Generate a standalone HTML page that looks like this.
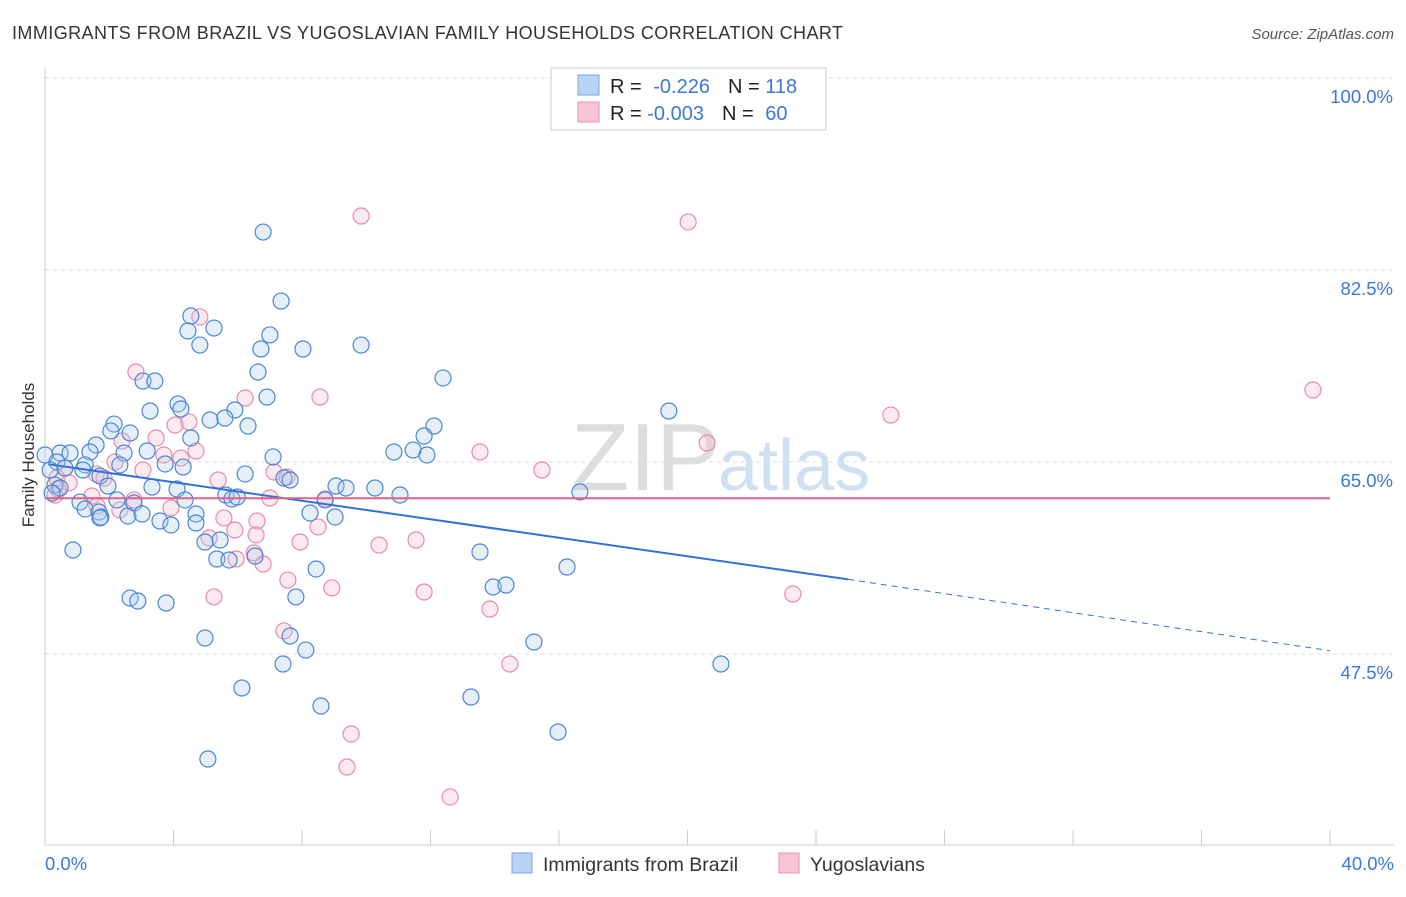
<!DOCTYPE html>
<html><head><meta charset="utf-8"><style>
body{margin:0;background:#fff;font-family:"Liberation Sans",sans-serif}
svg text{font-family:"Liberation Sans",sans-serif}
</style></head><body>
<svg id="c" width="1406" height="892" xmlns="http://www.w3.org/2000/svg">
<text x="12" y="39" font-size="18" fill="#333" textLength="831">IMMIGRANTS FROM BRAZIL VS YUGOSLAVIAN FAMILY HOUSEHOLDS CORRELATION CHART</text>
<text x="1394" y="39" font-size="15" fill="#555" font-style="italic" text-anchor="end">Source: ZipAtlas.com</text>
<text x="720" y="490" font-size="96" fill="#ddd" text-anchor="end" font-family="Liberation Serif">ZIP</text>
<text x="718" y="490" font-size="72" fill="#cfe0f3">atlas</text>
<g id="grid"></g><g id="pts"></g><g id="lines"></g>
<text x="34" y="455" font-size="17" fill="#333" text-anchor="middle" transform="rotate(-90 34 455)">Family Households</text>
<rect x="551" y="68" width="275" height="62" fill="#fff" stroke="#ccc"/>
<rect x="578" y="75" width="21" height="20" fill="#b8d3f3" stroke="#7aa7e0"/>
<rect x="578" y="102" width="21" height="20" fill="#f9c4d3" stroke="#eb93ad"/>
<text x="610" y="93" font-size="20" fill="#222">R = <tspan fill="#3b78d8" dx="6">-0.226</tspan><tspan dx="18">N = </tspan><tspan fill="#3b78d8">118</tspan></text>
<text x="610" y="120" font-size="20" fill="#222">R = <tspan fill="#3b78d8">-0.003</tspan><tspan dx="18">N = </tspan><tspan fill="#3b78d8" dx="6">60</tspan></text>
<rect x="512" y="853" width="20" height="20" fill="#b8d3f3" stroke="#7aa7e0"/>
<text x="543" y="871" font-size="19.5" fill="#333">Immigrants from Brazil</text>
<rect x="779" y="853" width="20" height="20" fill="#f9c4d3" stroke="#eb93ad"/>
<text x="810" y="871" font-size="19.5" fill="#333">Yugoslavians</text>
<text x="45" y="870" font-size="18.5" fill="#3b78d8">0.0%</text>
<text x="1394" y="870" font-size="18.5" fill="#3b78d8" text-anchor="end">40.0%</text>
</svg>
<script>
const yTicks=[100,82.5,65,47.5];
const bluePx=[[263,232],[281,301],[191,316],[188,331],[214,328],[200,345],[270,335],[261,349],[303,349],[361,345],[258,372],[143,381],[155,381],[443,378],[267,397],[178,404],[150,411],[181,409],[235,410],[210,420],[225,418],[248,426],[114,424],[111,431],[130,433],[96,445],[191,438],[434,426],[424,436],[394,452],[413,450],[427,455],[669,411],[273,457],[147,451],[124,453],[45,455],[60,453],[70,453],[90,452],[57,462],[50,470],[85,465],[65,468],[83,470],[120,465],[165,464],[183,467],[245,474],[284,478],[290,480],[336,486],[346,488],[375,488],[400,495],[580,492],[55,485],[60,488],[100,476],[108,486],[152,487],[177,489],[52,493],[80,502],[117,500],[134,503],[185,500],[226,495],[232,499],[237,497],[325,500],[85,509],[99,512],[101,517],[128,516],[142,514],[196,514],[100,518],[160,521],[171,525],[196,523],[310,513],[335,517],[73,550],[220,540],[205,542],[217,559],[229,560],[255,556],[316,569],[480,552],[567,567],[130,598],[138,601],[166,603],[296,597],[493,587],[506,585],[205,638],[290,636],[306,650],[534,642],[283,664],[721,664],[242,688],[471,697],[321,706],[558,732],[208,759]];
const pinkPx=[[361,216],[688,222],[200,317],[136,372],[320,397],[245,398],[175,425],[189,422],[156,438],[122,441],[196,451],[480,452],[707,443],[891,415],[1313,390],[164,455],[115,462],[143,470],[181,458],[218,480],[274,472],[287,477],[542,470],[65,468],[57,478],[69,483],[96,474],[104,478],[58,489],[92,496],[134,500],[171,508],[270,498],[325,499],[55,495],[120,510],[97,506],[224,518],[257,521],[318,527],[235,530],[209,538],[256,535],[300,542],[379,545],[416,540],[254,553],[236,559],[263,564],[288,580],[332,588],[214,597],[424,592],[490,609],[793,594],[284,631],[510,664],[351,734],[347,767],[450,797]];
const xs=v=>45+v/40*1285, ys=v=>78+(100-v)*192/17.5;
const toX=p=>(p-45)/1285*40, toY=p=>100-(p-78)*17.5/192;
const blueX=bluePx.map(p=>+toX(p[0]).toFixed(2)), blueY=bluePx.map(p=>+toY(p[1]).toFixed(2));
const pinkX=pinkPx.map(p=>+toX(p[0]).toFixed(2)), pinkY=pinkPx.map(p=>+toY(p[1]).toFixed(2));
const NS="http://www.w3.org/2000/svg";
function mk(t,a,par){const e=document.createElementNS(NS,t);for(const k in a)e.setAttribute(k,a[k]);document.getElementById(par).appendChild(e);return e;}
const g='grid';
yTicks.forEach(v=>{const l=mk('line',{x1:45,x2:1394,y1:ys(v),y2:ys(v),stroke:'#ddd','stroke-dasharray':'4,4'},g);


const t=mk('text',{x:1393,y:ys(v)+25,'font-size':18.5,fill:'#3b78d8','text-anchor':'end'},g);t.textContent=v.toFixed(1)+'%';

});
let a=mk('line',{x1:45,x2:45,y1:68,y2:845,stroke:'#ccc'},g);


a=mk('line',{x1:45,x2:1394,y1:845,y2:845,stroke:'#ccc'},g);


for(let i=0;i<=10;i++){const t=mk('line',{x1:xs(i*4),x2:xs(i*4),y1:830,y2:845,stroke:'#ccc'},g);

}
function pts(X,Y,fill,stroke,name){X.forEach((x,i)=>{const c=mk('circle',{cx:xs(x),cy:ys(Y[i]),r:8,fill:fill,'fill-opacity':0.3,stroke:stroke,'stroke-width':1.2},'pts');

});}
pts(pinkX,pinkY,'#f9b8cb','#e88aa8','point-yugoslavians');
pts(blueX,blueY,'#a9c9f0','#4a86d8','point-brazil');
let l=mk('line',{x1:xs(0.1),y1:ys(64.8),x2:xs(25),y2:ys(54.3),stroke:'#2f72d8','stroke-width':2},'lines');


l=mk('line',{x1:xs(25),y1:ys(54.3),x2:xs(40),y2:ys(47.8),stroke:'#2f72d8','stroke-width':1,'stroke-dasharray':'6,5'},'lines');


l=mk('line',{x1:xs(0),y1:ys(61.7),x2:xs(40),y2:ys(61.7),stroke:'#e0608a','stroke-width':2},'lines');


</script>
</body></html>
